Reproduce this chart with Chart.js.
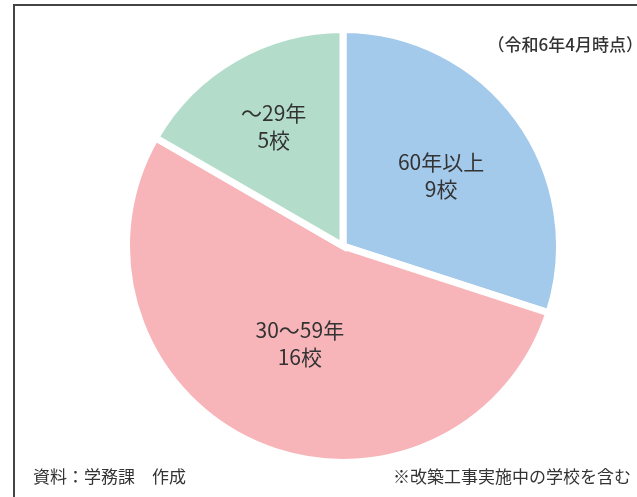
<!DOCTYPE html>
<html lang="ja">
<head>
<meta charset="utf-8">
<script src="https://cdn.jsdelivr.net/npm/chart.js@4.4.1/dist/chart.umd.min.js"></script>
<style>
    body {
        margin: 0;
        background: #fff;
        font-family: "Noto Sans CJK JP", sans-serif;
        color: #333;
        overflow: hidden;
    }
    #frame {
        position: absolute;
        left: 13px;
        top: 4px;
        width: 640px;
        height: 500px;
        border-left: 2px solid #444;
        border-top: 2px solid #444;
    }
    #pie_wrap {
        position: absolute;
        left: 123px;
        top: 26px;
        width: 440px;
        height: 440px;
    }
    .note {
        position: absolute;
        white-space: nowrap;
        line-height: 1;
    }
    #asOf {
        right: -6px;
        top: 35px;
        font-size: 17px;
        font-weight: 500;
    }
    #source {
        left: 33px;
        top: 467px;
        font-size: 17px;
    }
    #remark {
        right: 6px;
        top: 467px;
        font-size: 17px;
    }
</style>
</head>
<body>
<div id="frame"></div>
<div id="pie_wrap"><canvas id="chart_buildingAge"></canvas></div>
<div class="note" id="asOf">（令和6年4月時点）</div>
<div class="note" id="source">資料：学務課　作成</div>
<div class="note" id="remark">※改築工事実施中の学校を含む</div>

<script>
    // 築年数ごとの学校数
    const ageGroups = ["60年以上", "30～59年", "～29年"];
    const schoolCounts = [9, 16, 5];
    const countUnit = "校";

    const sliceColors = ["#a3c9eb", "#f7b5b9", "#b3ddca"];

    // 各扇形の中に「区分／校数」を2行で書く
    const sliceLabels = {
        id: "sliceLabels",
        afterDatasetsDraw(chart, args, opts) {
            const ctx = chart.ctx;
            const arcs = chart.getDatasetMeta(0).data;
            ctx.save();
            ctx.fillStyle = "#333";
            ctx.font = "21px 'Noto Sans CJK JP'";
            ctx.textAlign = "center";
            ctx.textBaseline = "middle";
            arcs.forEach(function (arc, i) {
                const p = arc.getProps(["x", "y", "startAngle", "endAngle", "outerRadius"], true);
                const mid = (p.startAngle + p.endAngle) / 2;
                const r = p.outerRadius * opts.dist[i];
                const cx = p.x + Math.cos(mid) * r;
                const cy = p.y + Math.sin(mid) * r;
                ctx.fillText(ageGroups[i], cx, cy - 13);
                ctx.fillText(schoolCounts[i] + countUnit, cx, cy + 14);
            });
            ctx.restore();
        }
    };

    const data = {
        labels: ageGroups,
        datasets: [{
            data: schoolCounts,
            backgroundColor: sliceColors,
            borderColor: "#fff",
            borderWidth: 7,
            borderJoinStyle: "miter"
        }]
    };

    const config = {
        type: "pie",
        data: data,
        options: {
            responsive: true,
            maintainAspectRatio: false,
            animation: false,
            layout: { padding: 0 },
            plugins: {
                legend: { display: false },
                tooltip: { enabled: false },
                sliceLabels: { dist: [0.56, 0.49, 0.64] }
            }
        },
        plugins: [sliceLabels]
    };

    const myChart = new Chart(
        document.getElementById("chart_buildingAge"),
        config
    );
</script>
</body>
</html>
